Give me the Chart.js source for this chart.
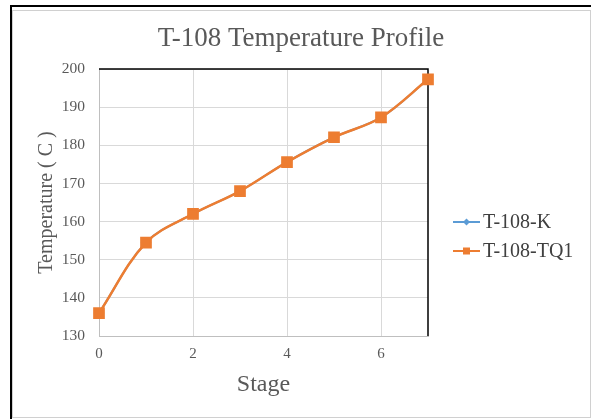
<!DOCTYPE html>
<html>
<head>
<meta charset="utf-8">
<title>T-108 Temperature Profile</title>
<script src="https://cdn.jsdelivr.net/npm/chart.js@4.4.1/dist/chart.umd.min.js"></script>
<style>
    html, body {
        margin: 0;
        padding: 0;
        background: #fff;
        width: 591px;
        height: 419px;
        overflow: hidden;
    }
    .sheet {
        position: absolute;
        left: 10px;
        top: 5px;
        right: 0;
        bottom: 0;
        border-top: 2px solid #000;
        border-left: 2px solid #000;
    }
    .frame {
        position: absolute;
        left: 12px;
        top: 10px;
        width: 577px;
        height: 406px;
        border: 1px solid #d0d0d0;
    }
    .wrap {
        position: absolute;
        left: 0;
        top: 0;
        width: 591px;
        height: 419px;
    }
</style>
</head>
<body>
<div class="sheet"></div>
<div class="frame"></div>
<div class="wrap"><canvas id="profile"></canvas></div>
<script>
    // Stage numbers and temperatures (C) for column T-108
    const stages = [0, 1, 2, 3, 4, 5, 6, 7];
    const kTemps = [136.0, 154.5, 162.0, 168.0, 175.6, 182.1, 187.3, 197.3];
    const tq1Temps = [136.0, 154.5, 162.0, 168.0, 175.6, 182.1, 187.3, 197.3];
    const xTicks = [0, 2, 4, 6];
    const yTicks = [130, 140, 150, 160, 170, 180, 190, 200];

    const serif = "'Liberation Serif', 'Times New Roman', serif";
    const grey = '#595959';

    const toPoints = (ys) => stages.map((s, i) => ({ x: s, y: ys[i] }));

    // Title, black top/right plot border and the line+marker legend
    const decorPlugin = {
        id: 'decor',
        beforeDatasetsDraw(chart) {
            const { ctx, chartArea } = chart;
            ctx.save();
            ctx.strokeStyle = '#000';
            ctx.lineWidth = 1.5;
            ctx.beginPath();
            ctx.moveTo(chartArea.left, chartArea.top);
            ctx.lineTo(chartArea.right, chartArea.top);
            ctx.lineTo(chartArea.right, chartArea.bottom);
            ctx.stroke();
            ctx.restore();
        },
        afterDraw(chart) {
            const { ctx } = chart;
            ctx.save();
            ctx.font = '27px ' + serif;
            ctx.fillStyle = grey;
            ctx.textAlign = 'center';
            ctx.textBaseline = 'middle';
            ctx.fillText('T-108 Temperature Profile', 301, 39);

            const rows = [222, 251];
            chart.data.datasets.forEach((ds, i) => {
                const y = rows[i];
                ctx.strokeStyle = ds.borderColor;
                ctx.lineWidth = 2;
                ctx.beginPath();
                ctx.moveTo(453, y);
                ctx.lineTo(480, y);
                ctx.stroke();
                ctx.fillStyle = ds.backgroundColor;
                if (ds.pointStyle === 'rect') {
                    ctx.fillRect(463, y - 3.5, 7, 7);
                } else {
                    ctx.beginPath();
                    ctx.moveTo(466.5, y - 3.5);
                    ctx.lineTo(470, y);
                    ctx.lineTo(466.5, y + 3.5);
                    ctx.lineTo(463, y);
                    ctx.closePath();
                    ctx.fill();
                }
                ctx.font = '20px ' + serif;
                ctx.fillStyle = '#404040';
                ctx.textAlign = 'left';
                ctx.fillText(ds.label, 483, y + 1);
            });
            ctx.restore();
        }
    };

    new Chart(document.getElementById('profile'), {
        type: 'line',
        data: {
            datasets: [{
                label: 'T-108-K',
                data: toPoints(kTemps),
                borderColor: '#5B9BD5',
                backgroundColor: '#5B9BD5',
                borderWidth: 2,
                pointStyle: 'rectRot',
                pointRadius: 4,
                tension: 0.35,
                clip: false,
                order: 1
            }, {
                label: 'T-108-TQ1',
                data: toPoints(tq1Temps),
                borderColor: '#ED7D31',
                backgroundColor: '#ED7D31',
                borderWidth: 2.5,
                pointStyle: 'rect',
                pointRadius: 6.5,
                tension: 0.35,
                clip: false,
                order: 0
            }]
        },
        options: {
            responsive: true,
            maintainAspectRatio: false,
            animation: false,
            layout: {
                padding: { top: 69, right: 163, left: 0, bottom: 0 }
            },
            plugins: {
                legend: { display: false },
                title: { display: false },
                tooltip: { enabled: false }
            },
            scales: {
                x: {
                    type: 'linear',
                    min: 0,
                    max: 7,
                    afterFit: (scale) => { scale.height = 83; },
                    afterBuildTicks: (scale) => {
                        scale.ticks = xTicks.map(v => ({ value: v }));
                    },
                    ticks: {
                        color: grey,
                        font: { family: serif, size: 15 },
                        padding: 9,
                        maxRotation: 0
                    },
                    grid: { color: '#d9d9d9', drawTicks: false },
                    border: { color: '#bfbfbf' },
                    title: {
                        display: true,
                        text: 'Stage',
                        color: grey,
                        font: { family: serif, size: 24 },
                        padding: { top: 0, bottom: 20 }
                    }
                },
                y: {
                    min: 130,
                    max: 200,
                    afterFit: (scale) => { scale.width = 99; },
                    afterBuildTicks: (scale) => {
                        scale.ticks = yTicks.map(v => ({ value: v }));
                    },
                    ticks: {
                        color: grey,
                        font: { family: serif, size: 15.5 },
                        padding: 14
                    },
                    grid: { color: '#d9d9d9', drawTicks: false },
                    border: { color: '#bfbfbf' },
                    title: {
                        display: true,
                        text: 'Temperature ( C )',
                        color: grey,
                        font: { family: serif, size: 20 },
                        padding: { top: 35, bottom: 0 }
                    }
                }
            }
        },
        plugins: [decorPlugin]
    });
</script>
</body>
</html>
